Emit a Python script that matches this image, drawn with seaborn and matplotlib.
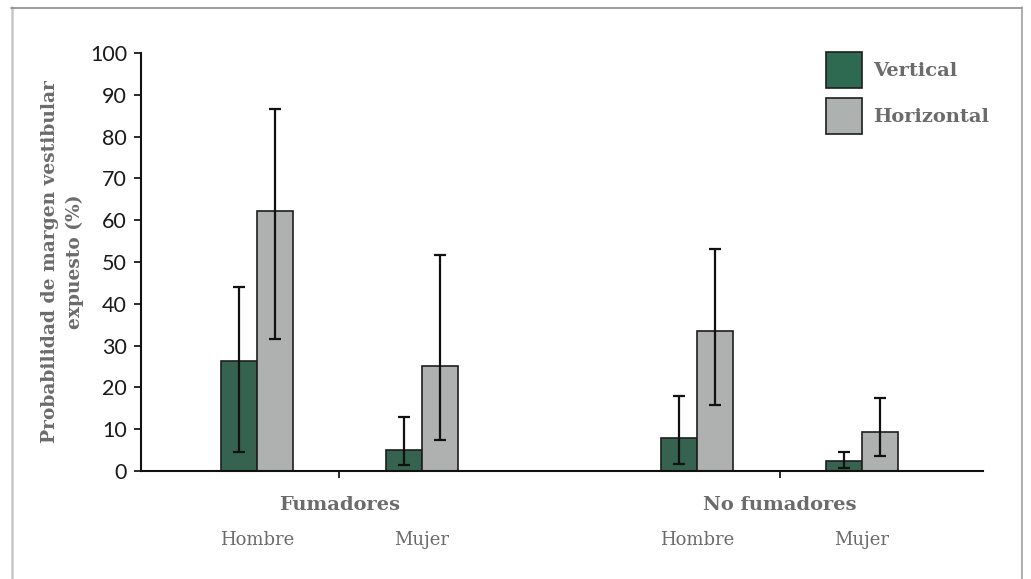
import matplotlib
matplotlib.use("Agg")

import numpy as np
import pandas as pd
import matplotlib.pyplot as plt
import seaborn as sns
from matplotlib.patches import Patch
from matplotlib.lines import Line2D

# Data
GROUPS = ['Fumadores', 'No fumadores']
SEXES = ['Hombre', 'Mujer']
ORIENTATIONS = ['Vertical', 'Horizontal']

# value, lower and upper limit per (group, sex), per orientation
vertical_val = [26.3, 5.0, 7.9, 2.4]
vertical_lo = [4.5, 1.5, 1.6, 0.8]
vertical_hi = [44.0, 13.0, 18.0, 4.5]
horizontal_val = [62.2, 25.1, 33.5, 9.3]
horizontal_lo = [31.5, 7.5, 15.8, 3.7]
horizontal_hi = [86.5, 51.7, 53.0, 17.5]

COLORS = {'Vertical': '#2e6a51', 'Horizontal': '#adb1b0'}
EDGE = '#1e1e1e'
LABEL_GRAY = '#6b6b6b'
GROUP_STEP = 2.667   # distance between groups, in units of sex spacing
BAR_WIDTH = 0.436    # width of a pair of bars

rows = []
for orient, vals, los, his in [('Vertical', vertical_val, vertical_lo, vertical_hi),
                               ('Horizontal', horizontal_val, horizontal_lo, horizontal_hi)]:
    k = 0
    for gi, g in enumerate(GROUPS):
        for si, s in enumerate(SEXES):
            rows.append({'grupo': g, 'sexo': s, 'orientacion': orient,
                         'pos': gi * GROUP_STEP + si,
                         'valor': vals[k], 'lo': los[k], 'hi': his[k]})
            k += 1
df = pd.DataFrame(rows)

sns.set_theme(style="ticks")
plt.rcParams['font.family'] = ['DejaVu Serif']

fig = plt.figure(figsize=(10.31, 5.79), dpi=100)
ax = fig.add_axes([141 / 1031, 1 - 471 / 579, (983 - 141) / 1031, (471 - 53) / 579])

sns.barplot(data=df, x='pos', y='valor', hue='orientacion', hue_order=ORIENTATIONS,
            palette=COLORS, native_scale=True, width=BAR_WIDTH, dodge=True,
            edgecolor=EDGE, linewidth=1.2, errorbar=None, legend=False, ax=ax)

# asymmetric error bars
for hi_idx, orient in enumerate(ORIENTATIONS):
    sub = df[df['orientacion'] == orient]
    xs = sub['pos'] + (hi_idx - 0.5) * BAR_WIDTH / 2
    yerr = [sub['valor'] - sub['lo'], sub['hi'] - sub['valor']]
    ax.errorbar(xs, sub['valor'], yerr=yerr, fmt='none', ecolor='#111111',
                elinewidth=1.6, capsize=4, capthick=1.6, zorder=5)

ax.set_ylim(0, 100)
ax.set_xlim(-0.703, 4.4)
ax.set_yticks(np.arange(0, 101, 10))
ax.tick_params(axis='y', length=5, width=1.3, pad=5, labelsize=15.5,
               colors='#1a1a1a')
for lab in ax.get_yticklabels():
    lab.set_family('Lato')

# group labels on major ticks, sex labels on minor ticks
group_centers = [gi * GROUP_STEP + (len(SEXES) - 1) / 2 for gi in range(len(GROUPS))]
ax.set_xticks(group_centers)
ax.set_xticklabels(GROUPS, fontweight='bold', fontsize=14, color=LABEL_GRAY)
ax.tick_params(axis='x', which='major', length=5, width=1.3, pad=13, colors='#1a1a1a',
               labelcolor=LABEL_GRAY)
sex_pos = [gi * GROUP_STEP + si for gi in range(len(GROUPS)) for si in range(len(SEXES))]
ax.set_xticks(sex_pos, minor=True)
ax.set_xticklabels(SEXES * len(GROUPS), minor=True, fontsize=13, color=LABEL_GRAY)
ax.tick_params(axis='x', which='minor', length=0, pad=43, labelcolor=LABEL_GRAY)

ax.set_xlabel('')
ax.set_ylabel('Probabilidad de margen vestibular\nexpuesto (%)', fontweight='bold',
              fontsize=13.4, color=LABEL_GRAY, labelpad=4, linespacing=1.5)

sns.despine(ax=ax)
for side in ['left', 'bottom']:
    ax.spines[side].set_linewidth(1.5)
    ax.spines[side].set_color('#111111')

handles = [Patch(facecolor=COLORS[o], edgecolor=EDGE, linewidth=1.2) for o in ORIENTATIONS]
leg = fig.legend(handles, ORIENTATIONS, loc='upper left',
                 bbox_to_anchor=(826 / 1031, 1 - 52 / 579), frameon=False,
                 borderpad=0, borderaxespad=0, handlelength=1.855, handleheight=2.48,
                 handletextpad=0.55, labelspacing=0.52,
                 prop={'family': 'DejaVu Serif', 'weight': 'bold', 'size': 14})
for t in leg.get_texts():
    t.set_color(LABEL_GRAY)

# page frame
fig.add_artist(Line2D([11.5 / 1031, 11.5 / 1031], [0, 1 - 7 / 579],
                      transform=fig.transFigure, color='#c6c6c6', linewidth=1.8))
fig.add_artist(Line2D([11 / 1031, 1022 / 1031], [1 - 7.5 / 579, 1 - 7.5 / 579],
                      transform=fig.transFigure, color='#8c8c8c', linewidth=1.2))
fig.add_artist(Line2D([1022 / 1031, 1022 / 1031], [0, 1 - 7 / 579],
                      transform=fig.transFigure, color='#a0a0a0', linewidth=1.2))

fig.savefig('out.png', dpi=100)
